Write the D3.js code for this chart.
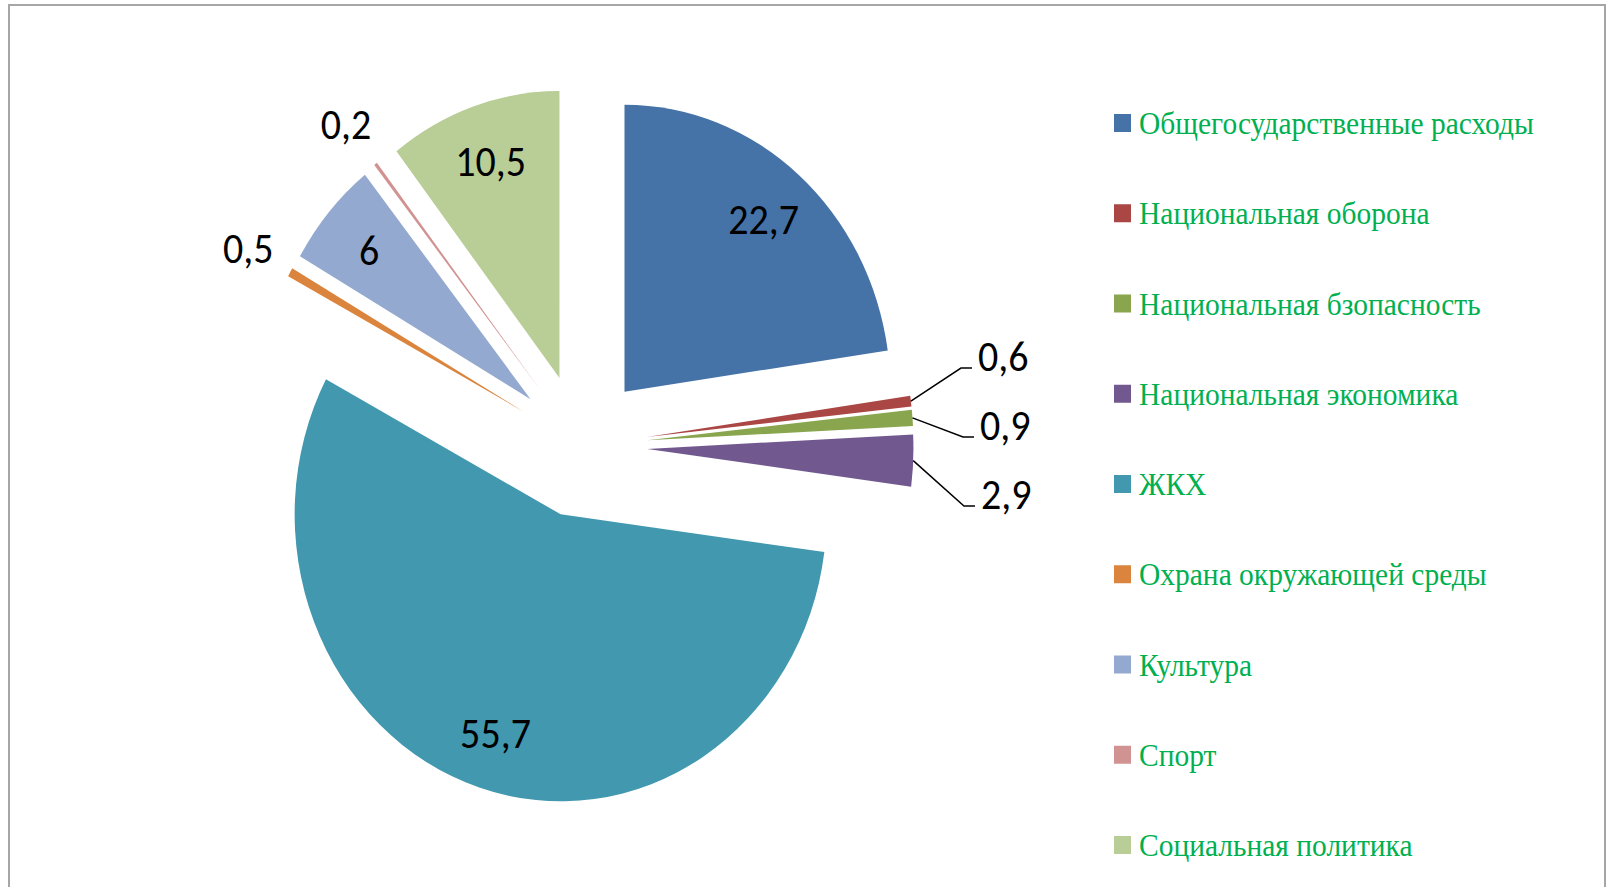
<!DOCTYPE html>
<html>
<head>
<meta charset="utf-8">
<script src="https://cdn.jsdelivr.net/npm/d3@7"></script>
<style>
  body { margin: 0; background: #fff; }
  svg { display: block; }
</style>
</head>
<body>
<svg width="1610" height="887"></svg>
<script>
const categories = [
  'Общегосударственные расходы',
  'Национальная оборона',
  'Национальная бзопасность',
  'Национальная экономика',
  'ЖКХ',
  'Охрана окружающей среды',
  'Культура',
  'Спорт',
  'Социальная политика'
];
const values = [22.7, 0.6, 0.9, 2.9, 55.7, 0.5, 6, 0.2, 10.5];
const colors = ['#4572a7', '#aa4643', '#89a54e', '#71588f', '#4198af',
                '#db843d', '#93a9cf', '#d19392', '#b9cd96'];

function draw() {
  const svg = d3.select('svg');
  const cx = 581;
  const cy = 446;
  const radius = 266;
  const ky = 1.079;          // picture is stretched vertically
  const explode = 0.25 * radius;

  svg.append('rect')
      .attr('x', 9)
      .attr('y', 5)
      .attr('width', 1596)
      .attr('height', 900)
      .style('fill', 'white')
      .style('stroke', '#a6a6a6')
      .style('stroke-width', 2);

  const pie = d3.pie().sort(null).value(d => d);
  const arcs = pie(values);
  const arc = d3.arc().innerRadius(0).outerRadius(radius);
  const mid = d => (d.startAngle + d.endAngle) / 2;
  // point at distance r from the centre of an exploded slice, in page coords
  const at = (d, r) => {
    const a = mid(d);
    return [cx + (explode + r) * Math.sin(a), cy - (explode + r) * Math.cos(a) * ky];
  };

  svg.append('g')
      .attr('transform', `translate(${cx}, ${cy}) scale(1, ${ky})`)
      .selectAll('path')
      .data(arcs)
      .enter()
      .append('path')
      .attr('transform', d => `translate(${explode * Math.sin(mid(d))}, ${-explode * Math.cos(mid(d))})`)
      .attr('d', arc)
      .style('fill', (d, i) => colors[i]);

  const fmt = v => String(v).replace('.', ',');
  const labelFont = 'Carlito, Calibri, Lato, sans-serif';
  const labels = svg.append('g')
      .style('font-family', labelFont)
      .style('font-size', '40px')
      .style('fill', 'black');

  const putText = (x, y, txt, anchor) => labels.append('text')
      .attr('transform', `translate(${x}, ${y}) scale(1, ${ky})`)
      .attr('text-anchor', anchor)
      .attr('dy', '0.36em')
      .text(txt);

  // inside labels
  arcs.filter(d => d.data >= 5).forEach(d => {
    const p = at(d, radius * 0.8);
    putText(p[0], p[1], fmt(d.data), 'middle');
  });

  // outside labels on the left, no leader
  arcs.filter(d => d.data < 5 && Math.sin(mid(d)) < 0).forEach(d => {
    const p = at(d, radius * 1.18);
    putText(p[0], p[1], fmt(d.data), 'middle');
  });

  // outside labels on the right, spread apart with leader lines
  const right = arcs.filter(d => d.data < 5 && Math.sin(mid(d)) > 0)
      .map(d => ({d: d, p: at(d, radius * 1.35)}));
  const gap = 69;
  const meanY = d3.mean(right, r => r.p[1]);
  right.forEach((r, i) => {
    r.y = meanY + 3 + (i - (right.length - 1) / 2) * gap;
  });
  right.forEach(r => {
    const t = putText(r.p[0], r.y, fmt(r.d.data), 'middle');
    const w = t.node().getComputedTextLength();
    const left = r.p[0] - w / 2;
    const start = at(r.d, radius);
    labels.append('polyline')
        .attr('points', [start, [left - 17, r.y + 13], [left - 6, r.y + 13]].map(q => q.join(',')).join(' '))
        .style('fill', 'none')
        .style('stroke', 'black')
        .style('stroke-width', 1.5);
  });

  // legend
  const legendY = d3.scalePoint()
      .domain(categories)
      .range([123, 845]);
  const legend = svg.append('g')
      .selectAll('g.item')
      .data(categories)
      .enter()
      .append('g')
      .attr('class', 'item')
      .attr('transform', d => `translate(1114, ${legendY(d)})`);
  legend.append('rect')
      .attr('x', 0)
      .attr('y', -9)
      .attr('width', 17)
      .attr('height', 18)
      .style('fill', (d, i) => colors[i]);
  legend.append('text')
      .attr('transform', `translate(25, 11) scale(1, ${ky})`)
      .style('font-family', '"Liberation Serif", "Times New Roman", serif')
      .style('font-size', '29.5px')
      .style('fill', '#00b050')
      .text(d => d);
}

draw();
</script>
</body>
</html>
